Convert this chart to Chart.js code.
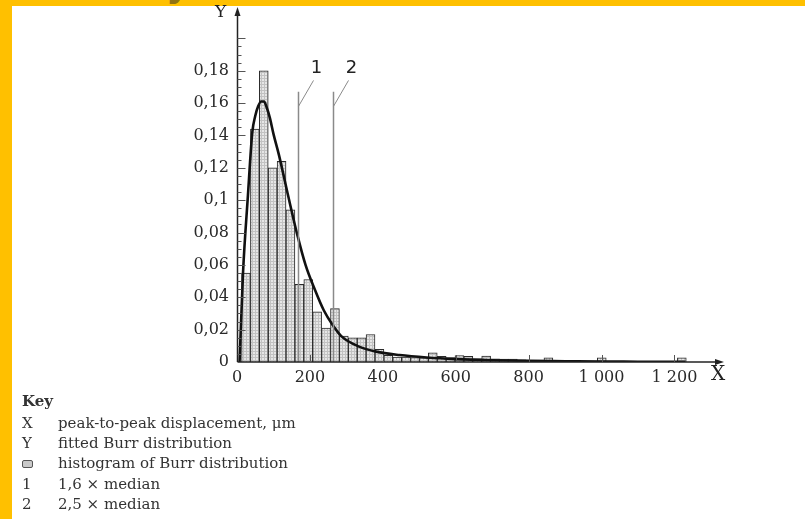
<!DOCTYPE html>
<html>
<head>
<meta charset="utf-8">
<script src="https://cdn.jsdelivr.net/npm/chart.js@4.4.1/dist/chart.umd.min.js"></script>
<style>
  body { margin:0; width:805px; height:519px; background:#fff; position:relative; overflow:hidden; font-family:"DejaVu Serif", serif; }
  .frameTop { position:absolute; left:0; top:0; width:805px; height:6px; background:#ffc000; }
  .frameLeft { position:absolute; left:0; top:0; width:12px; height:519px; background:#ffc000; }
  .cut { position:absolute; left:12px; top:0; width:793px; height:6px; overflow:hidden; }
  .cut span { position:absolute; left:60px; top:-36px; font:bold 36px "DejaVu Sans", sans-serif; color:rgba(70,62,30,0.6); white-space:nowrap; letter-spacing:1px; line-height:42px; }
  #chart { position:absolute; left:0; top:0; }
  .row { position:absolute; left:22px; height:18px; line-height:18px; font-size:15px; color:#333; white-space:nowrap; }
  .row .t { position:absolute; left:36px; }
  .keyTitle { font-weight:bold; font-size:15px; color:#333; }
  .box { display:inline-block; width:9px; height:6px; border:1px solid #555; background:#c9c9c9; border-radius:2px; vertical-align:middle; }
</style>
</head>
<body>
<div class="frameTop"></div>
<div class="frameLeft"></div>
<div class="cut"><span>Analysis of the distribution for displacement of shaft</span></div>
<canvas id="chart" width="805" height="400"></canvas>

<div class="row keyTitle" style="top:392px">Key</div>
<div class="row" style="top:414px">X<span class="t">peak-to-peak displacement, μm</span></div>
<div class="row" style="top:434px">Y<span class="t">fitted Burr distribution</span></div>
<div class="row" style="top:454px"><span class="box"></span><span class="t">histogram of Burr distribution</span></div>
<div class="row" style="top:475px">1<span class="t">1,6 × median</span></div>
<div class="row" style="top:495px">2<span class="t">2,5 × median</span></div>

<script>
// histogram bins (equal width)
const binStart = 12.5;
const binWidth = 24.4;
const binHeights = [
  0.055, 0.144, 0.180, 0.120, 0.124, 0.094, 0.048, 0.051, 0.031, 0.021,
  0.033, 0.016, 0.015, 0.015, 0.017, 0.0078, 0.0041, 0.0031, 0.0031, 0.0027,
  0.0025, 0.0056, 0.0035, 0.0027, 0.0040, 0.0035, 0.0020, 0.0037, 0.0020, 0.0018,
  0.0018, 0.0014, 0.0006, 0.0006, 0.0025, 0.0004, 0.0003, 0.0003, 0.0004, 0.0003,
  0.0025, 0.0003, 0.0003, 0.0002, 0.0003, 0.0002, 0.0003, 0.0002, 0.0003, 0.0025
];

// fitted Burr curve
const curveX = [7, 16.5, 30, 42, 50, 58, 66, 74, 82, 90, 100, 115, 140, 165, 188, 214, 238, 262, 286, 335, 382, 446, 520, 600, 700, 800, 900, 1000, 1100, 1230];
const curveY = [0, 0.055, 0.103, 0.142, 0.152, 0.158, 0.161, 0.161, 0.157, 0.151, 0.141, 0.128, 0.103, 0.079, 0.060, 0.0445, 0.032, 0.023, 0.016, 0.0095, 0.0064, 0.0043, 0.0028, 0.0018, 0.0011, 0.0007, 0.0005, 0.0003, 0.0002, 0.0001];

const xTicks = [0, 200, 400, 600, 800, 1000, 1200];
const xTickLabels = ['0', '200', '400', '600', '800', '1 000', '1 200'];
const yTicks = [0, 0.02, 0.04, 0.06, 0.08, 0.1, 0.12, 0.14, 0.16, 0.18];
const yTickLabels = ['0', '0,02', '0,04', '0,06', '0,08', '0,1', '0,12', '0,14', '0,16', '0,18'];

const median = 105;
const markerFactors = [1.6, 2.5];
const markerNames = ['1', '2'];
const markerTop = 0.167;

function hatch() {
  const c = document.createElement('canvas');
  c.width = 3; c.height = 3;
  const g = c.getContext('2d');
  g.fillStyle = '#e6e6e6'; g.fillRect(0, 0, 3, 3);
  g.fillStyle = '#c2c2c2'; g.fillRect(0, 0, 3, 1); g.fillRect(0, 0, 1, 3);
  return g.createPattern(c, 'repeat');
}

const axesPlugin = {
  id: 'axes',
  afterDatasetsDraw(chart) {
    const { ctx, chartArea: a, scales: { x, y } } = chart;
    const x0 = x.getPixelForValue(0) + 0.5;
    const y0 = y.getPixelForValue(0);
    ctx.save();

    // marker lines 1 and 2
    markerFactors.forEach((f, i) => {
      const px = Math.round(x.getPixelForValue(median * f)) + 0.5;
      ctx.strokeStyle = '#8a8a8a';
      ctx.lineWidth = 1.5;
      ctx.beginPath();
      ctx.moveTo(px, y0);
      ctx.lineTo(px, y.getPixelForValue(markerTop));
      ctx.stroke();
      ctx.lineWidth = 1;
      ctx.beginPath();
      ctx.moveTo(px, y.getPixelForValue(0.158));
      ctx.lineTo(px + 15, y.getPixelForValue(0.174));
      ctx.stroke();
      ctx.fillStyle = '#222';
      ctx.font = '18px "DejaVu Sans"';
      ctx.textAlign = 'center';
      ctx.textBaseline = 'middle';
      ctx.fillText(markerNames[i], px + 18, y.getPixelForValue(0.1815));
    });

    ctx.strokeStyle = '#222';
    ctx.fillStyle = '#222';
    ctx.lineWidth = 1.5;
    // x axis + arrow
    ctx.beginPath();
    ctx.moveTo(x0, y0);
    ctx.lineTo(a.right - 4, y0);
    ctx.stroke();
    ctx.beginPath();
    ctx.moveTo(a.right, y0);
    ctx.lineTo(a.right - 9, y0 - 3);
    ctx.lineTo(a.right - 9, y0 + 3);
    ctx.closePath();
    ctx.fill();
    // y axis + arrow
    ctx.beginPath();
    ctx.moveTo(x0, y0);
    ctx.lineTo(x0, a.top + 5);
    ctx.stroke();
    ctx.beginPath();
    ctx.moveTo(x0, a.top + 1);
    ctx.lineTo(x0 - 3, a.top + 10);
    ctx.lineTo(x0 + 3, a.top + 10);
    ctx.closePath();
    ctx.fill();

    // y ticks, inside
    ctx.lineWidth = 1;
    ctx.strokeStyle = '#555';
    for (let i = 1; i <= 40; i++) {
      const py = Math.round(y.getPixelForValue(i * 0.005)) + 0.5;
      const len = i % 4 === 0 ? 8 : 4;
      ctx.beginPath();
      ctx.moveTo(x0, py);
      ctx.lineTo(x0 + len, py);
      ctx.stroke();
    }
    // x ticks, inside
    xTicks.forEach(v => {
      if (v === 0) return;
      const px = Math.round(x.getPixelForValue(v)) + 0.5;
      ctx.beginPath();
      ctx.moveTo(px, y0);
      ctx.lineTo(px, y0 - 7);
      ctx.stroke();
    });

    // axis names
    ctx.fillStyle = '#222';
    ctx.textAlign = 'center';
    ctx.textBaseline = 'middle';
    ctx.font = '20px "DejaVu Serif"';
    ctx.fillText('X', a.right - 6, y0 + 13);
    ctx.font = '17px "DejaVu Serif"';
    ctx.fillText('Y', x0 - 17, a.top + 7);
    ctx.restore();
  }
};

const bars = binHeights.map((h, i) => ({ x: binStart + binWidth * (i + 0.5), y: h }));
const curve = curveX.map((v, i) => ({ x: v, y: curveY[i] }));

new Chart(document.getElementById('chart').getContext('2d'), {
  type: 'bar',
  data: {
    datasets: [
      {
        type: 'line',
        data: curve,
        borderColor: '#111',
        borderWidth: 2.6,
        pointRadius: 0,
        cubicInterpolationMode: 'monotone',
        order: 0
      },
      {
        type: 'bar',
        data: bars,
        backgroundColor: hatch(),
        borderColor: '#2a2a2a',
        borderWidth: 1,
        barPercentage: 1,
        categoryPercentage: 1,
        order: 1
      }
    ]
  },
  options: {
    responsive: false,
    animation: false,
    devicePixelRatio: 1,
    layout: { padding: { left: 0, top: 6, right: 81, bottom: 0 } },
    plugins: { legend: { display: false }, tooltip: { enabled: false } },
    scales: {
      x: {
        type: 'linear',
        min: 0,
        max: 1336,
        offset: false,
        grid: { display: false, drawTicks: false },
        border: { display: false },
        afterBuildTicks: s => { s.ticks = xTicks.map(v => ({ value: v })); },
        afterFit: s => { s.height = 38; s.paddingLeft = 0; s.paddingRight = 0; },
        ticks: {
          autoSkip: false,
          maxRotation: 0,
          padding: 6,
          color: '#2a2a2a',
          font: { family: 'DejaVu Serif', size: 16 },
          callback: (v, i) => xTickLabels[i]
        }
      },
      y: {
        min: 0,
        max: 0.22,
        grid: { display: false, drawTicks: false },
        border: { display: false },
        afterBuildTicks: s => { s.ticks = yTicks.map(v => ({ value: v })); },
        afterFit: s => { s.width = 237; s.paddingTop = 0; s.paddingBottom = 0; },
        ticks: {
          padding: 8,
          color: '#2a2a2a',
          font: { family: 'DejaVu Serif', size: 16 },
          callback: (v, i) => yTickLabels[i]
        }
      }
    }
  },
  plugins: [axesPlugin]
});
</script>
</body>
</html>
